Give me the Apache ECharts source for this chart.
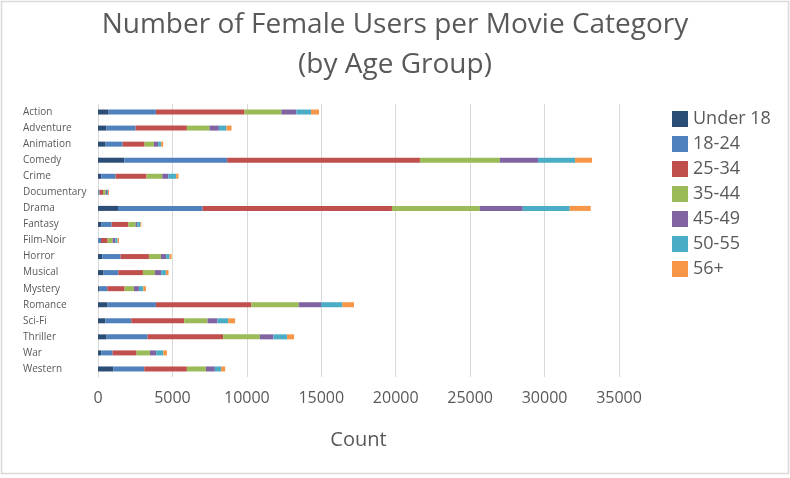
<!DOCTYPE html>
<html>
<head>
<meta charset="utf-8">
<script src="https://cdn.jsdelivr.net/npm/echarts@6/dist/echarts.min.js"></script>
<style>html,body{margin:0;padding:0;background:#fff;}#c{width:790px;height:478px;}</style>
</head>
<body>
<div id="c"></div>
<script>
const categories = ['Action','Adventure','Animation','Comedy','Crime','Documentary','Drama','Fantasy','Film-Noir','Horror','Musical','Mystery','Romance','Sci-Fi','Thriller','War','Western'];
const seriesNames = ['Under 18','18-24','25-34','35-44','45-49','50-55','56+'];
const under18 = [713, 557, 512, 1765, 221, 25, 1342, 244, 40, 289, 378, 110, 646, 490, 579, 221, 1027];
const age18_24 = [3177, 1968, 1141, 6911, 960, 80, 5677, 671, 160, 1228, 984, 514, 3244, 1744, 2751, 761, 2080];
const age25_34 = [5950, 3445, 1477, 12951, 2080, 230, 12729, 1118, 445, 1905, 1657, 1163, 6417, 3557, 5078, 1608, 2863];
const age35_44 = [2480, 1520, 627, 5368, 1054, 175, 5904, 492, 335, 805, 806, 626, 3180, 1563, 2462, 899, 1277];
const age45_49 = [1010, 630, 289, 2570, 422, 95, 2886, 112, 180, 356, 423, 335, 1496, 671, 913, 423, 604];
const age50_55 = [980, 510, 202, 2482, 517, 65, 3154, 201, 155, 224, 313, 292, 1430, 718, 919, 470, 423];
const age56plus = [540, 340, 134, 1141, 154, 65, 1409, 67, 95, 134, 179, 180, 785, 470, 470, 248, 268];
const xTicks = [0, 5000, 10000, 15000, 20000, 25000, 30000, 35000];

const values = [under18, age18_24, age25_34, age35_44, age45_49, age50_55, age56plus];
const colors = ['#2C4D75','#4F81BD','#C0504D','#9BBB59','#8064A2','#4BACC6','#F79646'];
const font = 'Open Sans';
const txt = '#595959';

const chart = echarts.init(document.getElementById('c'));
chart.setOption({
  animation: false,
  color: colors,
  textStyle: {fontFamily: font},
  title: {
    text: 'Number of Female Users per Movie Category\n(by Age Group)',
    left: 'center', top: 0,
    textStyle: {fontFamily: font, fontSize: 28, fontWeight: 'normal', color: txt, lineHeight: 40}
  },
  graphic: [{
    type: 'rect', silent: true,
    shape: {x: 1.5, y: 1.5, width: 787, height: 472},
    style: {fill: 'none', stroke: '#d9d9d9', lineWidth: 1.5}
  }],
  legend: {
    orient: 'vertical', left: 667, top: 105,
    itemWidth: 16, itemHeight: 16, itemGap: 7, icon: 'rect',
    textStyle: {fontFamily: font, fontSize: 18, color: txt, lineHeight: 18, padding: [0,0,0,0]},
    data: seriesNames
  },
  grid: {left: 98, right: 171, top: 104, bottom: 101, containLabel: false},
  xAxis: {
    type: 'value', min: xTicks[0], max: xTicks[xTicks.length-1], interval: xTicks[1]-xTicks[0],
    axisLine: {show: false}, axisTick: {show: false},
    splitLine: {lineStyle: {color: '#d9d9d9', width: 1}},
    axisLabel: {fontFamily: font, fontSize: 16, color: txt, margin: 13, formatter: v => String(v)},
    name: 'Count', nameLocation: 'middle', nameGap: 53,
    nameTextStyle: {fontFamily: font, fontSize: 20, color: txt}
  },
  yAxis: {
    type: 'category', data: categories, inverse: true,
    axisLine: {show: true, lineStyle: {color: '#d9d9d9'}},
    axisTick: {show: false},
    axisLabel: {fontFamily: font, fontSize: 10, color: txt, align: 'left', margin: 75}
  },
  series: seriesNames.map((n, i) => ({
    name: n, type: 'bar', stack: 'total', data: values[i], barWidth: 5,
    itemStyle: {color: colors[i]}
  }))
});
</script>
</body>
</html>
